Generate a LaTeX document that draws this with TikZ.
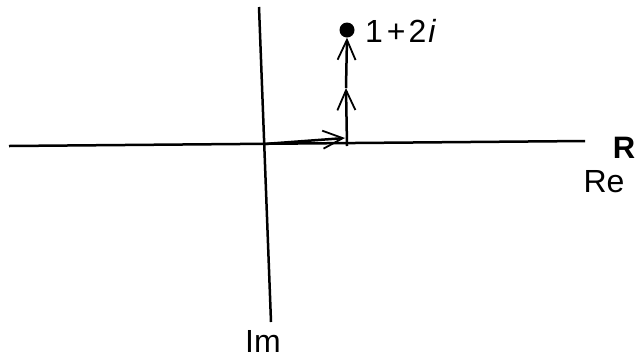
\documentclass[tikz,border=0pt]{standalone}
\usepackage{fontspec}
\setmainfont{Liberation Sans}
\usetikzlibrary{arrows.meta,positioning}

\begin{document}
\begin{tikzpicture}[x=1pt, y=-1pt,
  every node/.style={font=\fontsize{32}{38}\selectfont, inner sep=0pt},
  axis/.style={line width=2.5pt},
  vec/.style={line width=2.5pt, -{Straight Barb[length=20pt, width=18pt, line width=1.8pt]}},
  pt/.style={circle, fill, minimum size=15pt}
]
\useasboundingbox (0,0) rectangle (642,360);
% axes
\coordinate (reL) at (9,146);
\coordinate (reR) at (585,141);
\coordinate (imT) at (259,7);
\coordinate (imB) at (271,322);
\coordinate (O) at (264,144);
\draw[axis] (reL) -- (reR);
\draw[axis] (imT) -- (imB);
\node[font=\bfseries\fontsize{31}{36}\selectfont] (R) at (624,148) {R};
\node (re) at (604,182) {Re};
\node (im) at (263,341) {Im};
% path to 1+2i
\coordinate (one) at (345,138);
\coordinate (foot) at (347,146);
\coordinate (mid) at (346,88);
\node[pt] (P) at (347,30) {};
\node[anchor=west] (lab) at (365,31) {1\kern4pt+\kern3pt2\kern2pt\textit{i}};
\draw[vec] (O) -- (one);
\draw[vec] (foot) -- (mid);
\draw[vec] (mid) -- (P.south);
\end{tikzpicture}
\end{document}
